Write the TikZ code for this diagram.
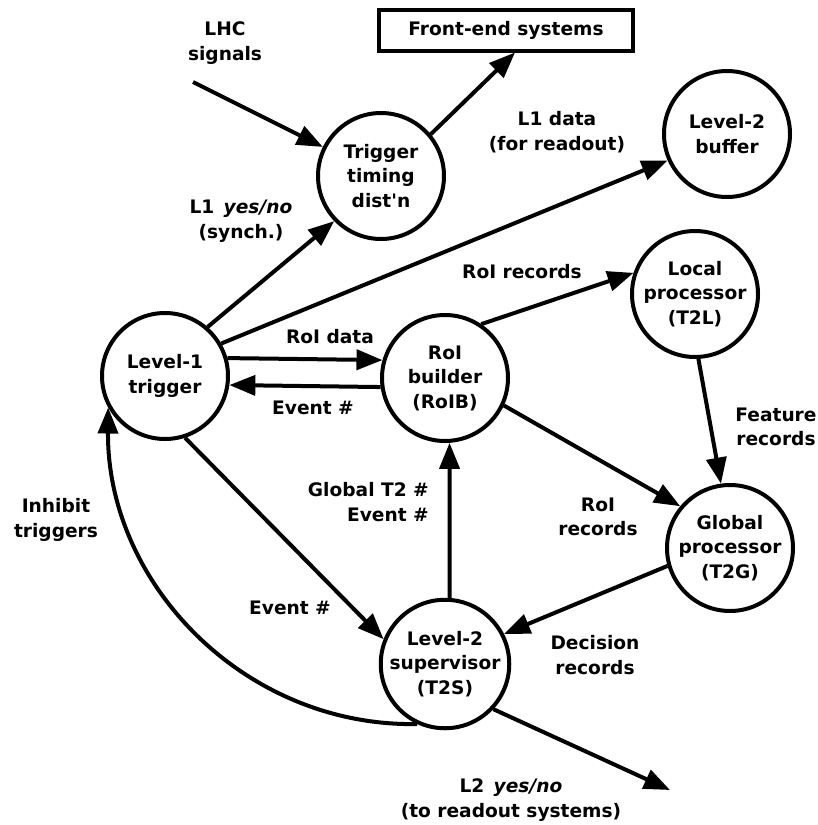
\documentclass[tikz,border=0pt]{standalone}
\usepackage{fontspec}
\setmainfont{DejaVu Sans}[Ligatures=TeXOff]
\usetikzlibrary{arrows.meta}
\begin{document}
\begin{tikzpicture}[x=1pt,y=-1pt,
  txt/.style={font=\fontsize{18.6}{24.5}\selectfont\bfseries, align=center, inner sep=0pt},
  proc/.style={circle, draw, line width=4pt, minimum size=126pt, inner sep=0pt, txt},
  arr/.style={line width=4pt, -{Triangle[length=26pt,width=20pt]}}]
\useasboundingbox (0,0) rectangle (818,825);
% nodes
\node[proc] (ttd) at (381,176) {Trigger\\timing\\dist'n};
\node[proc] (buf) at (727,134) {Level-2\\buffer};
\node[proc] (l1) at (165,376) {Level-1\\trigger};
\node[proc] (roib) at (445,378) {RoI\\builder\\(RoIB)};
\node[proc] (t2l) at (695,294) {Local\\processor\\(T2L)};
\node[proc] (t2g) at (730,548) {Global\\processor\\(T2G)};
\node[proc] (t2s) at (445,664) {Level-2\\supervisor\\(T2S)};
\node[draw, line width=4pt, minimum width=254pt, minimum height=41pt, txt] (fe) at (506,30) {Front-end systems};
\coordinate (lhcstart) at (193,82);
\coordinate (l2end) at (670,790);
% labels
\node[txt] (lhclab) at (225,43) {LHC\\signals};
\node[txt] (l1datalab) at (557,132) {L1 data\\(for readout)};
\node[txt] (l1ynlab) at (241,221) {L1\hspace{0.5em}\textit{yes/no}\\(synch.)};
\node[txt] (roidatalab) at (330,337) {RoI data};
\node[txt] (evlab1) at (313,408) {Event \#};
\node[txt] (roireclab1) at (522,272) {RoI records};
\node[txt] (roireclab2) at (598,517) {RoI\\records};
\node[txt] (featlab) at (776,427) {Feature\\records};
\node[txt, anchor=east, align=right] (globlab) at (429,502) {Global T2 \#\\Event \#};
\node[txt] (evlab2) at (290,608) {Event \#};
\node[txt] (inhlab) at (56,520) {Inhibit\\triggers};
\node[txt] (declab) at (595,655) {Decision\\records};
\node[txt] (l2lab) at (511,800) {L2\hspace{0.5em}\textit{yes/no}\\(to readout systems)};
% connectors
\draw[arr] (lhcstart) -- (ttd);
\draw[arr] (ttd.40) -- ([xshift=9pt]fe.south);
\draw[arr] (l1.30) -- (buf.204);
\draw[arr] (l1.49) -- (ttd.224);
\draw[arr] (l1.16) -- (roib.164);
\draw[arr] (roib.188) -- (l1.-8);
\draw[arr] (roib.56) -- (t2l.161);
\draw[arr] (roib.-25) -- (t2g.140);
\draw[arr] (t2l.-87) -- (t2g.98);
\draw[arr] (t2g.196) -- (t2s.27);
\draw[arr] (t2s.-43) -- (l2end);
\draw[arr] (t2s.86) -- (roib.-86);
\draw[arr] (l1.-72) -- (t2s.158);
\draw[arr] (t2s.245) .. controls (245,727) and (107,584) .. (l1.209);
\end{tikzpicture}
\end{document}
